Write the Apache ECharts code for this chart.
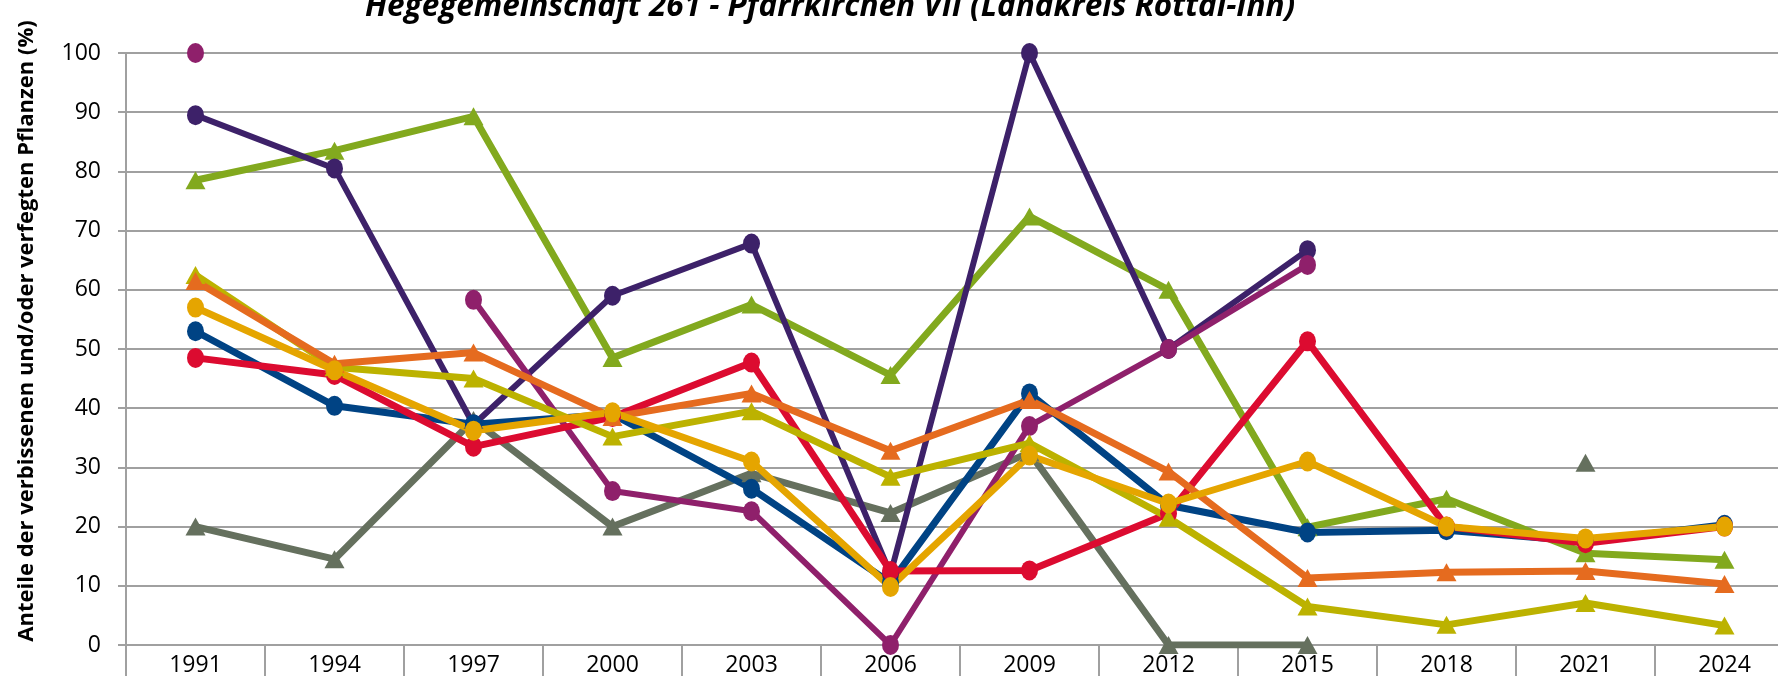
<!DOCTYPE html>
<html>
<head>
<meta charset="utf-8">
<script src="https://cdn.jsdelivr.net/npm/echarts@6/dist/echarts.min.js"></script>
<style>
html,body{margin:0;padding:0;background:#fff;}
#chart{width:1778px;height:676px;}
</style>
</head>
<body>
<div id="chart"></div>
<script>
const titleText = 'Hegegemeinschaft 261 - Pfarrkirchen VII (Landkreis Rottal-Inn)';
const yAxisName = 'Anteile der verbissenen und/oder verfegten Pflanzen (%)';
const years = ['1991','1994','1997','2000','2003','2006','2009','2012','2015','2018','2021','2024'];

const sGrey    = [20, 14.5, 38, 20, 29, 22.3, 32.5, 0, 0, null, 30.8, null];
const sGreen   = [78.5, 83.5, 89.3, 48.5, 57.5, 45.6, 72.4, 60, 19.9, 24.7, 15.5, 14.4];
const sPurple  = [89.5, 80.5, 37.2, 59, 67.8, 12, 100, 50, 66.7, null, null, null];
const sMagenta = [100, null, 58.3, 26, 22.6, 0, 37, 50, 64.2, null, null, null];
const sBlue    = [53, 40.4, 37.3, 39, 26.4, 10.5, 42.5, 23.6, 19, 19.4, 17.5, 20.3];
const sRed     = [48.5, 45.6, 33.5, 38.5, 47.7, 12.5, 12.6, 22.2, 51.3, 20, 17.2, 20];
const sYellow  = [62.5, 46.9, 45, 35.2, 39.5, 28.4, 34.1, 21.5, 6.5, 3.4, 7.1, 3.3];
const sOrange  = [61.5, 47.5, 49.4, 38.5, 42.5, 32.8, 41.4, 29.3, 11.3, 12.3, 12.5, 10.3];
const sGold    = [57, 46.4, 36.2, 39.3, 31, 9.8, 32, 23.9, 31, 20, 18, 20];

const FONT = "'Open Sans', 'Liberation Sans', sans-serif";

function mk(name, data, color, symbol, width) {
  const isTri = symbol === 'triangle';
  return {
    name: name,
    type: 'line',
    data: data,
    connectNulls: false,
    showSymbol: true,
    showAllSymbol: true,
    symbol: symbol,
    symbolSize: isTri ? [20, 18] : [17, 20],
    lineStyle: {color: color, width: width},
    itemStyle: {color: color, borderWidth: 0},
    emphasis: {disabled: true},
    animation: false
  };
}

const chart = echarts.init(document.getElementById('chart'), null, {renderer: 'canvas'});
chart.setOption({
  backgroundColor: '#ffffff',
  animation: false,
  title: {
    text: titleText,
    left: 360,
    top: -14,
    textStyle: {fontFamily: FONT, fontSize: 31.5, fontWeight: 'bold', fontStyle: 'italic', color: '#000'}
  },
  grid: {left: 126, top: 53, width: 1668, height: 592, containLabel: false, outerBoundsMode: 'none'},
  xAxis: {
    type: 'category',
    data: years,
    boundaryGap: true,
    axisLine: {show: true, lineStyle: {color: '#a0a0a0', width: 2}},
    axisTick: {show: true, alignWithLabel: false, interval: 0, length: 40, lineStyle: {color: '#a0a0a0', width: 2}},
    axisLabel: {interval: 0, margin: 9, fontFamily: FONT, fontSize: 23, color: '#000'},
    splitLine: {show: false}
  },
  yAxis: {
    type: 'value',
    min: 0, max: 100, interval: 10,
    name: yAxisName,
    nameLocation: 'middle',
    nameGap: 88,
    nameRotate: 90,
    nameTextStyle: {fontFamily: FONT, fontSize: 22, fontWeight: 'bold', color: '#000', padding: [0, 0, 0, 36]},
    axisLine: {show: true, lineStyle: {color: '#a0a0a0', width: 2}},
    axisTick: {show: true, length: 8, lineStyle: {color: '#a0a0a0', width: 2}},
    axisLabel: {margin: 25, fontFamily: FONT, fontSize: 23, color: '#000'},
    splitLine: {show: true, lineStyle: {color: '#a0a0a0', width: 2}}
  },
  series: [
    mk('Grau', sGrey, '#65705e', 'triangle', 7),
    mk('Grün', sGreen, '#82a91e', 'triangle', 7),
    mk('Violett', sPurple, '#3d2169', 'circle', 6),
    mk('Magenta', sMagenta, '#8f206b', 'circle', 6),
    mk('Blau', sBlue, '#004384', 'circle', 7),
    mk('Rot', sRed, '#dc0b30', 'circle', 7),
    mk('Gelbgrün', sYellow, '#bcb200', 'triangle', 7),
    mk('Orange', sOrange, '#e56b1f', 'triangle', 7),
    mk('Gold', sGold, '#e5a500', 'circle', 7)
  ]
});
</script>
</body>
</html>
